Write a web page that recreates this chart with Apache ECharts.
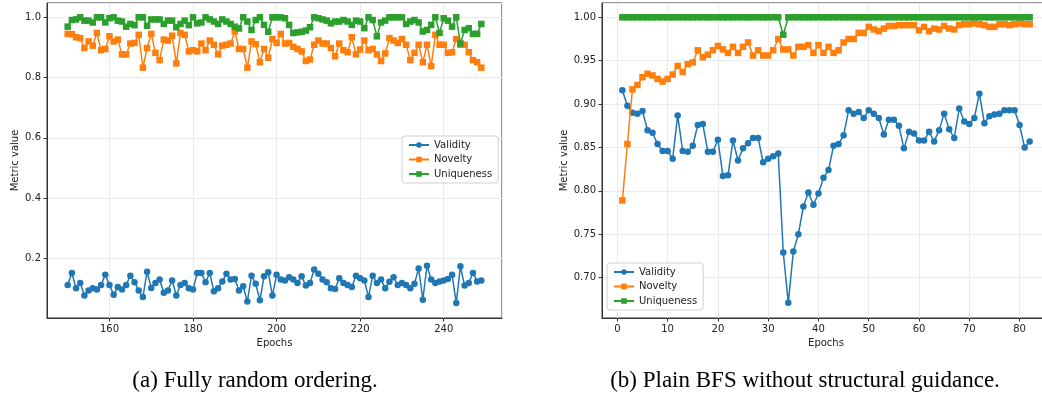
<!DOCTYPE html>
<html>
<head>
<meta charset="utf-8">
<title>Metric curves</title>
<script src="https://cdn.jsdelivr.net/npm/echarts@6.0.0/dist/echarts.min.js"></script>
<style>
  html, body { margin: 0; padding: 0; background: #fff; }
  #chart { width: 1042px; height: 397px; }
</style>
</head>
<body>
<div id="chart"></div>
<script>
// (a) fully random ordering, epochs 150..249
const startEpochA = 150
const validityA = [
  0.112, 0.152, 0.101, 0.119, 0.077, 0.094, 0.101, 0.097, 0.112, 0.146,
  0.112, 0.080, 0.105, 0.097, 0.112, 0.143, 0.121, 0.094, 0.072, 0.156,
  0.102, 0.119, 0.130, 0.086, 0.094, 0.127, 0.077, 0.112, 0.119, 0.101,
  0.097, 0.152, 0.152, 0.121, 0.152, 0.091, 0.101, 0.124, 0.149, 0.130,
  0.132, 0.094, 0.108, 0.057, 0.143, 0.116, 0.061, 0.141, 0.154, 0.077,
  0.146, 0.130, 0.127, 0.138, 0.130, 0.119, 0.141, 0.110, 0.119, 0.163,
  0.149, 0.130, 0.121, 0.101, 0.099, 0.134, 0.119, 0.112, 0.105, 0.143,
  0.134, 0.127, 0.072, 0.143, 0.119, 0.130, 0.101, 0.123, 0.138, 0.112,
  0.119, 0.112, 0.101, 0.116, 0.167, 0.063, 0.176, 0.130, 0.119, 0.124,
  0.127, 0.132, 0.146, 0.052, 0.174, 0.110, 0.119, 0.152, 0.124, 0.127
]
const noveltyA = [
  0.945, 0.944, 0.934, 0.931, 0.898, 0.920, 0.906, 0.948, 0.891, 0.895,
  0.937, 0.920, 0.926, 0.877, 0.877, 0.913, 0.915, 0.942, 0.833, 0.898,
  0.945, 0.882, 0.858, 0.926, 0.923, 0.939, 0.847, 0.948, 0.942, 0.887,
  0.891, 0.887, 0.913, 0.891, 0.923, 0.909, 0.877, 0.906, 0.909, 0.913,
  0.953, 0.895, 0.895, 0.833, 0.920, 0.911, 0.851, 0.895, 0.866, 0.928,
  0.915, 0.945, 0.913, 0.915, 0.902, 0.895, 0.887, 0.855, 0.860, 0.909,
  0.923, 0.913, 0.913, 0.898, 0.871, 0.913, 0.891, 0.884, 0.934, 0.877,
  0.893, 0.923, 0.891, 0.895, 0.877, 0.855, 0.880, 0.931, 0.923, 0.915,
  0.928, 0.909, 0.858, 0.882, 0.909, 0.851, 0.909, 0.838, 0.942, 0.909,
  0.909, 0.882, 0.884, 0.928, 0.909, 0.909, 0.884, 0.858, 0.851, 0.833
]
const uniquenessA = [
  0.969, 0.991, 0.993, 1.000, 0.989, 0.989, 0.983, 1.000, 1.000, 0.983,
  0.997, 1.000, 0.989, 0.986, 0.969, 0.978, 0.974, 1.000, 1.000, 0.972,
  0.993, 0.993, 0.993, 0.978, 0.989, 0.989, 0.967, 0.978, 0.989, 0.974,
  1.000, 0.980, 0.983, 1.000, 0.993, 0.986, 0.978, 0.993, 0.986, 0.978,
  0.969, 0.963, 1.000, 0.986, 0.958, 0.991, 1.000, 0.975, 0.952, 1.000,
  1.000, 1.000, 0.997, 0.975, 0.948, 0.950, 0.952, 0.956, 0.967, 1.000,
  0.997, 0.993, 0.989, 0.980, 0.986, 0.986, 0.991, 0.986, 0.975, 0.989,
  0.986, 0.964, 1.000, 0.991, 0.937, 0.983, 0.989, 1.000, 1.000, 1.000,
  1.000, 0.978, 0.986, 0.991, 0.983, 0.953, 0.958, 0.975, 1.000, 0.948,
  0.997, 0.989, 0.969, 1.000, 0.913, 0.958, 0.964, 0.945, 0.945, 0.978
]

// (b) plain BFS without structural guidance, epochs 1..82
const startEpochB = 1
const validityB = [
  0.916, 0.898, 0.890, 0.889, 0.892, 0.870, 0.867, 0.854, 0.846, 0.846,
  0.837, 0.887, 0.846, 0.845, 0.852, 0.876, 0.877, 0.845, 0.845, 0.859,
  0.817, 0.818, 0.858, 0.835, 0.849, 0.855, 0.861, 0.861, 0.833, 0.837,
  0.840, 0.843, 0.729, 0.671, 0.730, 0.750, 0.782, 0.798, 0.784, 0.797,
  0.815, 0.824, 0.852, 0.854, 0.864, 0.893, 0.889, 0.891, 0.884, 0.893,
  0.889, 0.884, 0.865, 0.882, 0.882, 0.875, 0.849, 0.868, 0.866, 0.858,
  0.858, 0.868, 0.857, 0.870, 0.889, 0.871, 0.861, 0.895, 0.880, 0.877,
  0.884, 0.912, 0.878, 0.886, 0.888, 0.889, 0.893, 0.893, 0.893, 0.876,
  0.850, 0.857
]
const noveltyB = [
  0.789, 0.854, 0.917, 0.922, 0.931, 0.935, 0.933, 0.929, 0.926, 0.929,
  0.934, 0.944, 0.937, 0.946, 0.948, 0.962, 0.954, 0.957, 0.962, 0.967,
  0.963, 0.959, 0.966, 0.959, 0.966, 0.971, 0.956, 0.962, 0.956, 0.956,
  0.962, 0.975, 0.963, 0.963, 0.956, 0.966, 0.966, 0.968, 0.959, 0.968,
  0.959, 0.966, 0.959, 0.962, 0.971, 0.975, 0.975, 0.982, 0.982, 0.989,
  0.986, 0.984, 0.987, 0.990, 0.990, 0.991, 0.991, 0.991, 0.991, 0.985,
  0.989, 0.984, 0.987, 0.986, 0.990, 0.987, 0.986, 0.991, 0.992, 0.992,
  0.993, 0.992, 0.991, 0.989, 0.989, 0.992, 0.992, 0.991, 0.992, 0.993,
  0.992, 0.992
]
const uniquenessB = [
  1, 1, 1, 1, 1, 1, 1, 1, 1, 1,
  1, 1, 1, 1, 1, 1, 1, 1, 1, 1,
  1, 1, 1, 1, 1, 1, 1, 1, 1, 1,
  1, 1, 0.980, 1, 1, 1, 1, 1, 1, 1,
  1, 1, 1, 1, 1, 1, 1, 1, 1, 1,
  1, 1, 1, 1, 1, 1, 1, 1, 1, 1,
  1, 1, 1, 1, 1, 1, 1, 1, 1, 1,
  1, 1, 1, 1, 1, 1, 1, 1, 1, 1,
  1, 1
]

const seriesNames = ['Validity', 'Novelty', 'Uniqueness']
const captions = ['(a) Fully random ordering.', '(b) Plain BFS without structural guidance.']

const FONT = 'DejaVu Sans'
const TEXT = '#222'
const SPINE = '#333'
const GRIDLINE = '#ebebeb'
const COLORS = ['#1f77b4', '#ff7f0e', '#2ca02c']
const SYMBOLS = ['circle', 'rect', 'rect']

// pair each value with its epoch
function withEpochs (start, values) {
  return values.map((v, i) => [start + i, v])
}

function makeXAxis (gridIndex, min, max, step) {
  return {
    type: 'value',
    gridIndex,
    min,
    max,
    minInterval: step,
    maxInterval: step,
    name: 'Epochs',
    nameLocation: 'middle',
    nameGap: 20,
    nameTextStyle: { fontFamily: FONT, fontSize: 10, color: TEXT },
    axisLine: { show: true, onZero: false, lineStyle: { color: SPINE, width: 1 } },
    axisTick: { show: true, length: 3.5, lineStyle: { color: SPINE, width: 1 } },
    axisLabel: {
      showMinLabel: false,
      showMaxLabel: false,
      margin: 6,
      fontFamily: FONT,
      fontSize: 10,
      color: TEXT
    },
    splitLine: { show: true, lineStyle: { color: GRIDLINE, width: 1 } }
  }
}

function makeYAxis (gridIndex, min, max, step, digits, nameGap) {
  return {
    type: 'value',
    gridIndex,
    min,
    max,
    minInterval: step,
    maxInterval: step,
    name: 'Metric value',
    nameLocation: 'middle',
    nameRotate: 90,
    nameGap,
    nameTextStyle: { fontFamily: FONT, fontSize: 10, color: TEXT },
    axisLine: { show: true, onZero: false, lineStyle: { color: SPINE, width: 1 } },
    axisTick: { show: true, length: 3.5, lineStyle: { color: SPINE, width: 1 } },
    axisLabel: {
      showMinLabel: false,
      showMaxLabel: false,
      margin: 6,
      fontFamily: FONT,
      fontSize: 10,
      color: TEXT,
      formatter: v => v.toFixed(digits)
    },
    splitLine: { show: true, lineStyle: { color: GRIDLINE, width: 1 } }
  }
}

function makeSeries (axisIndex, start, lists) {
  return lists.map((values, k) => ({
    name: seriesNames[k],
    type: 'line',
    xAxisIndex: axisIndex,
    yAxisIndex: axisIndex,
    data: withEpochs(start, values),
    symbol: SYMBOLS[k],
    symbolSize: 6.5,
    showSymbol: true,
    lineStyle: { width: 1.5, color: COLORS[k] },
    itemStyle: { color: COLORS[k] },
    emphasis: { disabled: true },
    z: 2 + k
  }))
}

function makeLegend (left, top) {
  return {
    orient: 'vertical',
    left,
    top,
    data: seriesNames,
    itemWidth: 20,
    itemHeight: 7,
    itemGap: 4.5,
    backgroundColor: '#fff',
    borderColor: '#d0d0d0',
    borderWidth: 1,
    borderRadius: 3,
    padding: [4, 6, 4, 6],
    selectedMode: false,
    textStyle: { fontFamily: FONT, fontSize: 10, color: TEXT }
  }
}

function makeCaption (text, centerX) {
  return {
    text,
    left: centerX,
    top: 369,
    textAlign: 'center',
    padding: 0,
    textStyle: { fontFamily: 'Liberation Serif', fontSize: 23, fontWeight: 'normal', color: '#000' }
  }
}

const chart = echarts.init(document.getElementById('chart'), null, { renderer: 'canvas' })

const option = {
  animation: false,
  backgroundColor: '#fff',
  title: [makeCaption(captions[0], 255), makeCaption(captions[1], 805)],
  legend: [makeLegend(402, 136), makeLegend(607, 263)],
  grid: [
    { left: 47, top: 3, width: 455, height: 315, outerBoundsMode: 'none', show: true, borderColor: SPINE, borderWidth: 1, backgroundColor: 'transparent' },
    // right-hand plot runs past the picture's edge, as in the source figure
    { left: 602, top: 3, width: 448, height: 315, outerBoundsMode: 'none', show: true, borderColor: SPINE, borderWidth: 1, backgroundColor: 'transparent' }
  ],
  xAxis: [
    makeXAxis(0, 145.05, 253.95, 20),
    makeXAxis(1, -3.05, 86.05, 10)
  ],
  yAxis: [
    makeYAxis(0, 0.0025, 1.0475, 0.2, 1, 27),
    makeYAxis(1, 0.6535, 1.0165, 0.05, 2, 33)
  ],
  series: [
    ...makeSeries(0, startEpochA, [validityA, noveltyA, uniquenessA]),
    ...makeSeries(1, startEpochB, [validityB, noveltyB, uniquenessB])
  ]
}

chart.setOption(option)
</script>
</body>
</html>
